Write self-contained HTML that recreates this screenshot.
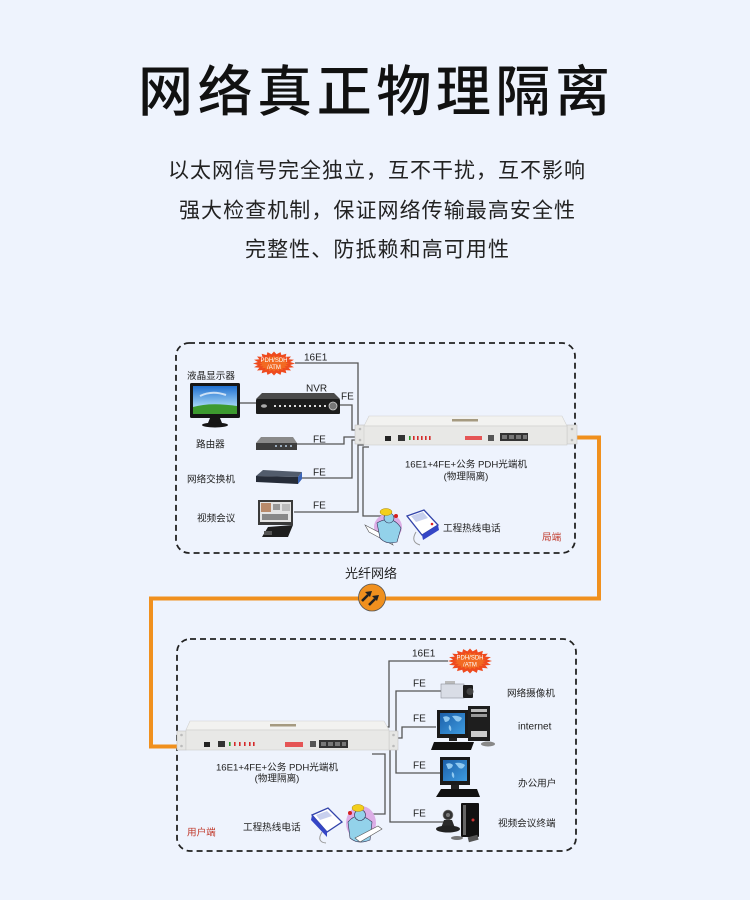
<!DOCTYPE html>
<html><head><meta charset="utf-8"><style>
html,body{margin:0;padding:0;background:#eef3fd;}
svg{display:block;}
text{font-family:"Liberation Sans","Noto Sans CJK SC",sans-serif;}
</style></head><body>
<svg width="750" height="900" viewBox="0 0 750 900" xmlns="http://www.w3.org/2000/svg">
<defs>
<linearGradient id="sky" x1="0" y1="0" x2="0" y2="1"><stop offset="0" stop-color="#1f6fd0"/><stop offset="0.7" stop-color="#9fd2f4"/><stop offset="1" stop-color="#cfe9f8"/></linearGradient>
<linearGradient id="scr" x1="0" y1="0" x2="1" y2="1"><stop offset="0" stop-color="#1c5fa8"/><stop offset="1" stop-color="#3d9be0"/></linearGradient>
<polygon id="burst" points="1,0 .771,.122 .951,.309 .695,.354 .809,.588 .551,.551 .588,.809 .354,.695 .309,.951 .122,.771 0,1 -.122,.771 -.309,.951 -.354,.695 -.588,.809 -.551,.551 -.809,.588 -.695,.354 -.951,.309 -.771,.122 -1,0 -.771,-.122 -.951,-.309 -.695,-.354 -.809,-.588 -.551,-.551 -.588,-.809 -.354,-.695 -.309,-.951 -.122,-.771 0,-1 .122,-.771 .309,-.951 .354,-.695 .588,-.809 .551,-.551 .809,-.588 .695,-.354 .951,-.309 .771,-.122"/>
</defs>
<rect width="750" height="900" fill="#eef3fd"/>

<!-- Title -->
<text x="138" y="111" font-size="55" fill="#111" textLength="472" lengthAdjust="spacing" font-weight="500">网络真正物理隔离</text>
<text x="168" y="177.5" font-size="21" fill="#222" textLength="417" lengthAdjust="spacing">以太网信号完全独立，互不干扰，互不影响</text>
<text x="179" y="217.5" font-size="21" fill="#222" textLength="396" lengthAdjust="spacing">强大检查机制，保证网络传输最高安全性</text>
<text x="245" y="256.5" font-size="21" fill="#222" textLength="264" lengthAdjust="spacing">完整性、防抵赖和高可用性</text>

<!-- Dashed boxes -->
<rect x="176" y="343" width="399" height="210" rx="13" fill="none" stroke="#222" stroke-width="1.8" stroke-dasharray="6,4"/>
<rect x="177" y="639" width="399" height="212" rx="13" fill="none" stroke="#222" stroke-width="1.8" stroke-dasharray="6,4"/>

<!-- Orange fiber -->
<path d="M577 437.5 H599 V598.5 H151 V746.5 H178" fill="none" stroke="#f0901e" stroke-width="4"/>
<text x="345" y="578" font-size="13" fill="#222">光纤网络</text>
<circle cx="372" cy="597.5" r="13.5" fill="#f0901e" stroke="#555" stroke-width="0.8"/>
<path d="M362 601 L368 595" stroke="#222" stroke-width="2.6"/>
<polygon points="372,591 370,597 365,592" fill="#222"/>
<path d="M369 605 L375 599" stroke="#222" stroke-width="2.6"/>
<polygon points="379,595 377,601 372,596" fill="#222"/>

<!-- ===== TOP BOX connectors ===== -->
<g fill="none" stroke="#555" stroke-width="1.3">
<path d="M295 363 H358 V426"/>
<path d="M240 403 H256"/>
<path d="M340 405 H352 V430 H357"/>
<path d="M297 444 H344 V437 H356"/>
<path d="M302 478 H352 V440 H356"/>
<path d="M294 512 H358 V445 H364"/>
<path d="M369 447 H363 V516 H382"/>
</g>

<!-- burst top -->
<g transform="translate(274,363.5) scale(21,12)"><use href="#burst" fill="#ee4a1e"/></g>
<g transform="translate(274,363.5) scale(15,8)"><use href="#burst" fill="#f26a22"/></g>
<text x="274" y="362" font-size="6" fill="#fff" text-anchor="middle">PDH/SDH</text>
<text x="274" y="369" font-size="6" fill="#fff" text-anchor="middle">/ATM</text>

<!-- monitor -->
<rect x="190" y="383" width="50" height="35" rx="1.5" fill="#151515"/>
<rect x="193" y="386" width="44" height="28" fill="url(#sky)"/>
<path d="M193 407 Q210 402 237 406 V414 H193 Z" fill="#3d9a2f"/>
<path d="M200 396 Q212 390 226 395" stroke="#fff" stroke-width="2" fill="none" opacity="0.7"/>
<polygon points="210,418 220,418 222,423 208,423" fill="#151515"/>
<ellipse cx="215" cy="425" rx="13" ry="2.5" fill="#151515"/>

<!-- NVR -->
<polygon points="262,393 334,393 340,399 256,399" fill="#4a4a4a"/>
<rect x="256" y="399" width="84" height="15" rx="1" fill="#1c1c1c"/>
<ellipse cx="264" cy="406" rx="3" ry="1.8" fill="#aaa"/>
<g fill="#ddd">
<rect x="274" y="405" width="2" height="2"/><rect x="279" y="405" width="2" height="2"/><rect x="284" y="405" width="2" height="2"/><rect x="289" y="405" width="2" height="2"/><rect x="294" y="405" width="2" height="2"/><rect x="299" y="405" width="2" height="2"/><rect x="304" y="405" width="2" height="2"/><rect x="309" y="405" width="2" height="2"/><rect x="314" y="405" width="2" height="2"/><rect x="319" y="405" width="2" height="2"/><rect x="324" y="405" width="2" height="2"/>
</g>
<circle cx="333" cy="406" r="4" fill="#777" stroke="#ccc" stroke-width="0.8"/>

<!-- router -->
<polygon points="261,437 293,437 297,443 256,443" fill="#8a8a8a"/>
<rect x="256" y="443" width="41" height="7" fill="#3d3d3d"/>
<g fill="#9ab"><rect x="275" y="445" width="2" height="2"/><rect x="280" y="445" width="2" height="2"/><rect x="285" y="445" width="2" height="2"/><rect x="290" y="445" width="2" height="2"/></g>

<!-- switch -->
<polygon points="263,470 302,472 298,477 256,476" fill="#525c6c"/>
<polygon points="256,476 298,477 298,484 256,482" fill="#262c38"/>
<polygon points="298,477 302,472 302,479 298,484" fill="#3a64b8"/>

<!-- video conf -->
<rect x="258" y="500" width="35" height="25" fill="#3a3a3a"/>
<rect x="260" y="502" width="31" height="20" fill="#e4e4e4"/>
<rect x="261" y="503" width="10" height="9" fill="#b98a6a"/>
<rect x="273" y="504" width="7" height="6" fill="#999"/>
<rect x="282" y="504" width="8" height="7" fill="#bbb"/>
<rect x="262" y="514" width="26" height="6" fill="#888"/>
<polygon points="268,527 293,525 288,537 262,537" fill="#1e1e1e"/>
<rect x="264" y="531" width="8" height="4" fill="#555"/>

<!-- top device -->
<rect x="355" y="425" width="10" height="19" fill="#e6e6e4" stroke="#c4c4c4" stroke-width="0.6"/>
<circle cx="360" cy="429" r="1.3" fill="#bbb"/><circle cx="360" cy="440" r="1.3" fill="#bbb"/>
<rect x="567" y="425" width="10" height="19" fill="#e6e6e4" stroke="#c4c4c4" stroke-width="0.6"/>
<circle cx="572" cy="429" r="1.3" fill="#bbb"/><circle cx="572" cy="440" r="1.3" fill="#bbb"/>
<polygon points="369,416 562,416 567,426 364,426" fill="#f2f2f0" stroke="#d2d2d0" stroke-width="0.6"/>
<rect x="364" y="426" width="203" height="19" fill="#e8e8e6" stroke="#cdcdcb" stroke-width="0.6"/>
<rect x="452" y="419" width="26" height="2.5" fill="#a59a80"/>
<rect x="385" y="436" width="6" height="5" fill="#222"/>
<rect x="398" y="435" width="7" height="6" fill="#333"/>
<rect x="409" y="436" width="1.6" height="4" fill="#2a9a2a"/>
<g fill="#d42a2a"><rect x="413" y="436" width="1.6" height="4"/><rect x="417" y="436" width="1.6" height="4"/><rect x="421" y="436" width="1.6" height="4"/><rect x="425" y="436" width="1.6" height="4"/><rect x="429" y="436" width="1.6" height="4"/></g>
<rect x="465" y="436" width="17" height="4" fill="#e55555"/>
<rect x="488" y="435" width="6" height="6" fill="#555"/>
<rect x="500" y="433" width="28" height="8" fill="#333"/>
<g fill="#777"><rect x="502" y="435" width="5" height="4"/><rect x="509" y="435" width="5" height="4"/><rect x="516" y="435" width="5" height="4"/><rect x="523" y="435" width="4" height="4"/></g>

<!-- top phone clipart -->
<ellipse cx="388" cy="527" rx="14" ry="13" fill="#dcaee6"/>
<polygon points="365,525 388,537 393,545 369,532" fill="#fff" stroke="#555" stroke-width="0.6"/>
<path d="M377 523 Q392 514 401 528 L397 542 Q386 545 380 538 Z" fill="#93d2ea" stroke="#335" stroke-width="0.6"/>
<circle cx="389" cy="518" r="5" fill="#93d2ea" stroke="#335" stroke-width="0.6"/>
<ellipse cx="386" cy="512" rx="6" ry="3.5" fill="#f3cf1c" stroke="#a8860a" stroke-width="0.5"/>
<circle cx="396" cy="516" r="2" fill="#d42020"/>
<polygon points="407,516 424,510 438,525 422,535" fill="#fff" stroke="#3344aa" stroke-width="1.3"/>
<polygon points="411,516 423,512 428,518 416,522" fill="#c8d0ee"/>
<polygon points="422,535 438,525 439,530 423,540" fill="#3546c6"/>
<circle cx="432" cy="524" r="1.3" fill="#d22"/>
<path d="M416 532 Q410 542 420 545" stroke="#999" stroke-width="1" fill="none"/>

<!-- top labels -->
<g font-size="9.6" fill="#222">
<text x="187" y="379">液晶显示器</text>
<text x="196" y="447.5">路由器</text>
<text x="187" y="482.5">网络交换机</text>
<text x="197" y="521.5">视频会议</text>
<text x="443" y="531.5">工程热线电话</text>
<text x="466" y="467.5" text-anchor="middle">16E1+4FE+公务 PDH光端机</text>
<text x="466" y="479.5" text-anchor="middle">(物理隔离)</text>
</g>
<g font-size="10" fill="#222">
<text x="304" y="360.5">16E1</text>
<text x="306" y="391.5">NVR</text>
<text x="341" y="399.5">FE</text>
<text x="313" y="442.5">FE</text>
<text x="313" y="475.5">FE</text>
<text x="313" y="508.5">FE</text>
</g>
<text x="542" y="540.5" font-size="9.6" fill="#c0392b">局端</text>

<!-- ===== BOTTOM BOX ===== -->
<g fill="none" stroke="#555" stroke-width="1.3">
<path d="M380 727 H389 V661 H448"/>
<path d="M442 691 H396 V738 H392"/>
<path d="M396 738 H402 V727 H436"/>
<path d="M396 748 V773 H440"/>
<path d="M390 750 V822 H446"/>
<path d="M372 754 H385 V814 H369"/>
</g>

<!-- bottom device -->
<rect x="177" y="731" width="9" height="19" fill="#e6e6e4" stroke="#c4c4c4" stroke-width="0.6"/>
<circle cx="181.5" cy="735" r="1.3" fill="#bbb"/><circle cx="181.5" cy="746" r="1.3" fill="#bbb"/>
<rect x="389" y="731" width="9" height="19" fill="#e6e6e4" stroke="#c4c4c4" stroke-width="0.6"/>
<circle cx="393.5" cy="735" r="1.3" fill="#bbb"/><circle cx="393.5" cy="746" r="1.3" fill="#bbb"/>
<polygon points="190,721 384,721 389,730 186,730" fill="#f2f2f0" stroke="#d2d2d0" stroke-width="0.6"/>
<rect x="186" y="730" width="203" height="20" fill="#e8e8e6" stroke="#cdcdcb" stroke-width="0.6"/>
<rect x="270" y="724" width="26" height="2.5" fill="#a59a80"/>
<rect x="204" y="742" width="6" height="5" fill="#222"/>
<rect x="218" y="741" width="7" height="6" fill="#333"/>
<rect x="229" y="742" width="1.6" height="4" fill="#2a9a2a"/>
<g fill="#d42a2a"><rect x="234" y="742" width="1.6" height="4"/><rect x="239" y="742" width="1.6" height="4"/><rect x="244" y="742" width="1.6" height="4"/><rect x="249" y="742" width="1.6" height="4"/><rect x="253" y="742" width="1.6" height="4"/></g>
<rect x="285" y="742" width="18" height="5" fill="#e55555"/>
<rect x="310" y="741" width="6" height="6" fill="#555"/>
<rect x="319" y="740" width="29" height="8" fill="#333"/>
<g fill="#777"><rect x="321" y="742" width="5" height="4"/><rect x="328" y="742" width="5" height="4"/><rect x="335" y="742" width="5" height="4"/><rect x="342" y="742" width="4" height="4"/></g>

<!-- burst bottom -->
<g transform="translate(470,661) scale(22,12.5)"><use href="#burst" fill="#ee4a1e"/></g>
<g transform="translate(470,661) scale(16,8.5)"><use href="#burst" fill="#f26a22"/></g>
<text x="470" y="659.5" font-size="6" fill="#fff" text-anchor="middle">PDH/SDH</text>
<text x="470" y="666.5" font-size="6" fill="#fff" text-anchor="middle">/ATM</text>

<!-- camera -->
<rect x="445" y="681" width="10" height="3" fill="#bbb"/>
<rect x="441" y="684" width="23" height="14" fill="#d9dde6" stroke="#8a8f99" stroke-width="0.6"/>
<rect x="463" y="685" width="10" height="13" rx="1" fill="#1e1e1e"/>
<circle cx="470" cy="691.5" r="3.5" fill="#444"/>

<!-- internet PC -->
<rect x="437" y="710" width="31" height="28" fill="#1a1a1a"/>
<rect x="440" y="713" width="25" height="21" fill="url(#scr)"/>
<path d="M443 717 q4 -2 7 1 q-1 4 -5 4 z M452 716 q6 -1 10 2 q-2 5 -6 3 z M449 725 q3 1 2 6 q-3 -1 -2 -6 z" fill="#8fc8f0"/>
<rect x="449" y="738" width="8" height="3" fill="#222"/>
<rect x="468" y="706" width="22" height="35" fill="#1e1e1e"/>
<rect x="471" y="709" width="16" height="3" fill="#bbb"/>
<rect x="471" y="714" width="16" height="3" fill="#999"/>
<rect x="471" y="731" width="16" height="6" fill="#ccc"/>
<polygon points="434,742 474,742 471,750 431,750" fill="#111"/>
<ellipse cx="488" cy="744" rx="7" ry="2.5" fill="#888"/>

<!-- office PC -->
<rect x="440" y="757" width="30" height="28" fill="#1a1a1a"/>
<rect x="443" y="760" width="24" height="21" fill="url(#scr)"/>
<path d="M446 764 q4 -2 7 1 q-1 4 -5 4 z M455 763 q6 -1 10 2 q-2 5 -6 3 z M452 772 q3 1 2 6 q-3 -1 -2 -6 z" fill="#8fc8f0"/>
<rect x="451" y="785" width="8" height="4" fill="#222"/>
<polygon points="441,789 477,789 480,797 436,797" fill="#111"/>

<!-- video terminal -->
<rect x="461" y="803" width="18" height="34" rx="1" fill="#111"/>
<rect x="463" y="805" width="3" height="30" fill="#666"/>
<circle cx="473" cy="820" r="1.5" fill="#c33"/>
<circle cx="448" cy="815" r="5" fill="#333" stroke="#888" stroke-width="0.6"/>
<circle cx="448" cy="815" r="2" fill="#777"/>
<polygon points="444,820 452,820 455,828 441,828" fill="#2a2a2a"/>
<ellipse cx="448" cy="829" rx="12" ry="3.5" fill="#222"/>
<ellipse cx="457" cy="838" rx="6" ry="2" fill="#777"/>
<rect x="468" y="836" width="10" height="5" fill="#555" transform="rotate(-15 473 838)"/>

<!-- bottom phone clipart -->
<polygon points="312,815 328,808 342,822 327,832" fill="#fff" stroke="#3344aa" stroke-width="1.3"/>
<polygon points="316,815 327,811 332,816 320,820" fill="#c8d0ee"/>
<polygon points="312,815 327,832 327,837 311,820" fill="#3546c6"/>
<path d="M322 832 Q316 842 326 843" stroke="#999" stroke-width="1" fill="none"/>
<ellipse cx="361" cy="823" rx="15" ry="17" fill="#dcaee6"/>
<path d="M348 822 Q358 810 372 822 L370 840 Q358 845 350 838 Z" fill="#93d2ea" stroke="#335" stroke-width="0.6"/>
<circle cx="360" cy="815" r="5.5" fill="#93d2ea" stroke="#335" stroke-width="0.6"/>
<ellipse cx="358" cy="808" rx="6" ry="3.5" fill="#f3cf1c" stroke="#a8860a" stroke-width="0.5"/>
<circle cx="350" cy="813" r="2" fill="#d42020"/>
<polygon points="355,838 378,826 382,829 360,842" fill="#fff" stroke="#555" stroke-width="0.6"/>

<!-- bottom labels -->
<g font-size="9.6" fill="#222">
<text x="507" y="696.5">网络摄像机</text>
<text x="518" y="786.5">办公用户</text>
<text x="498" y="826.5">视频会议终端</text>
<text x="243" y="830.5">工程热线电话</text>
<text x="277" y="770.5" text-anchor="middle">16E1+4FE+公务 PDH光端机</text>
<text x="277" y="781.5" text-anchor="middle">(物理隔离)</text>
</g>
<g font-size="10" fill="#222">
<text x="412" y="656.5">16E1</text>
<text x="413" y="686.5">FE</text>
<text x="413" y="721.5">FE</text>
<text x="518" y="729.5">internet</text>
<text x="413" y="768.5">FE</text>
<text x="413" y="816.5">FE</text>
</g>
<text x="187" y="835.5" font-size="9.6" fill="#c0392b">用户端</text>
</svg>
</body></html>
